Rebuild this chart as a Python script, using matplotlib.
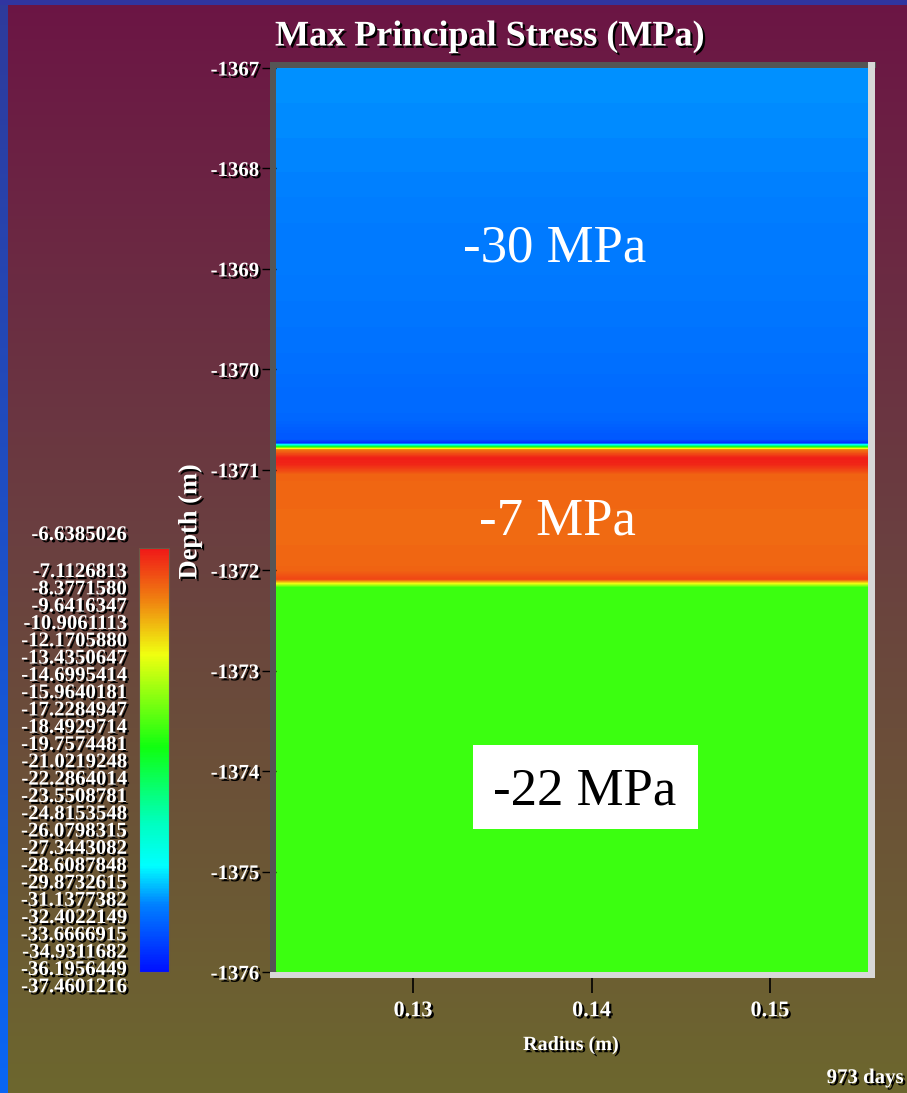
import numpy as np
import matplotlib
matplotlib.use("Agg")
import matplotlib.pyplot as plt
import matplotlib.patheffects as pe
from matplotlib.colors import LinearSegmentedColormap, Normalize
from matplotlib.cm import ScalarMappable
from matplotlib.patches import Rectangle

# --- data ---
depth_m = [-1367.0, -1368.0, -1369.0, -1370.0, -1370.5, -1370.70, -1370.73,
           -1370.80, -1370.88, -1370.95, -1371.05, -1371.6, -1372.0,
           -1372.09, -1372.17, -1373.0, -1376.0]
stress_mpa = [-32.2, -32.5, -32.9, -33.3, -33.7, -34.4, -36.0,
              -10.0, -7.0, -7.2, -9.4, -9.6, -9.4,
              -8.3, -19.8, -19.8, -19.8]
radius_m = [0.1223, 0.1555]

stress_min = -37.4601216
stress_max = -6.6385026
cbar_top_label = "-6.6385026"
cbar_labels = ["-7.1126813", "-8.3771580", "-9.6416347", "-10.9061113",
               "-12.1705880", "-13.4350647", "-14.6995414", "-15.9640181",
               "-17.2284947", "-18.4929714", "-19.7574481", "-21.0219248",
               "-22.2864014", "-23.5508781", "-24.8153548", "-26.0798315",
               "-27.3443082", "-28.6087848", "-29.8732615", "-31.1377382",
               "-32.4022149", "-33.6666915", "-34.9311682", "-36.1956449",
               "-37.4601216"]

x_ticks = [0.13, 0.14, 0.15]
x_tick_labels = ["0.13", "0.14", "0.15"]
y_ticks = [-1367, -1368, -1369, -1370, -1371, -1372, -1373, -1374, -1375, -1376]
y_tick_labels = ["-1367", "-1368", "-1369", "-1370", "-1371", "-1372",
                 "-1373", "-1374", "-1375", "-1376"]
band_labels = ["-30 MPa", "-7 MPa", "-22 MPa"]

W, H = 907, 1093


def fx(x):
    return x / W


def fy(y):
    return 1 - y / H


serif = "Liberation Serif"
shadow = [pe.SimplePatchShadow(offset=(1.6, -1.6), shadow_rgbFace="black", alpha=1.0),
          pe.Normal()]

cmap = LinearSegmentedColormap.from_list("stress", [
    (0.00, "#0010ff"), (0.157, "#0080ff"), (0.25, "#00ffff"), (0.35, "#00ffc0"),
    (0.53, "#10ff10"), (0.75, "#f0ff10"), (0.88, "#f08010"), (1.00, "#f01818")])
norm = Normalize(vmin=stress_min, vmax=stress_max)

fig = plt.figure(figsize=(W / 100, H / 100), dpi=100)

# background gradient and blue borders (pixel coordinates)
bg = fig.add_axes([0, 0, 1, 1], zorder=-10)
bg.axis("off")
rows = np.linspace(0, 1, H)
top_c = np.array([0x6c, 0x15, 0x45]) / 255
mid_c = np.array([0x6a, 0x40, 0x40]) / 255
bot_c = np.array([0x6d, 0x67, 0x2e]) / 255
grad = np.stack([np.interp(rows, [0.0, 0.5, 1.0], [top_c[i], mid_c[i], bot_c[i]])
                 for i in range(3)], axis=-1)
bg.imshow(grad[:, None, :], extent=[0, W, H, 0], aspect="auto")
blue_top = np.array([0x2f, 0x3a, 0x9a]) / 255
blue_bot = np.array([0x0a, 0x66, 0xf5]) / 255
bgrad = np.stack([np.interp(rows, [0, 1], [blue_top[i], blue_bot[i]]) for i in range(3)], axis=-1)
bg.imshow(bgrad[:, None, :], extent=[0, 8, H, 0], aspect="auto")
bg.add_patch(Rectangle((0, 0), W, 5, color="#3035a0", lw=0))
bg.set_xlim(0, W)
bg.set_ylim(H, 0)

# main field
ax = fig.add_axes([fx(276), fy(972), (868 - 276) / W, (972 - 68) / H])
field = np.column_stack([stress_mpa, stress_mpa])
ax.contourf(radius_m, depth_m, field, levels=np.linspace(stress_min, stress_max, 300),
            cmap=cmap, norm=norm, antialiased=False)
ax.set_xlim(0.12232, 0.15549)
ax.set_ylim(-1376, -1367)
for s in ax.spines.values():
    s.set_visible(False)
ax.set_xticks(x_ticks)
ax.set_xticklabels(x_tick_labels)
ax.set_yticks(y_ticks)
ax.set_yticklabels(y_tick_labels)
ax.tick_params(axis="y", direction="out", length=10, width=1, color="black", pad=2)
ax.tick_params(axis="x", direction="out", length=15, width=1.2, color="black", pad=6)
for lab in ax.get_yticklabels():
    lab.set(family=serif, weight="bold", size=15, color="white", path_effects=shadow)
for lab in ax.get_xticklabels():
    lab.set(family=serif, weight="bold", size=16, color="white", path_effects=shadow)

# band annotations
ax.text(0.4713, 0.800, band_labels[0], transform=ax.transAxes, ha="center", va="center",
        family=serif, size=38, color="white")
ax.text(0.4747, 0.498, band_labels[1], transform=ax.transAxes, ha="center", va="center",
        family=serif, size=38, color="white")
ax.add_patch(Rectangle((0.3328, 0.1582), 0.38, 0.0929, transform=ax.transAxes,
                       facecolor="white", edgecolor="none"))
ax.text(0.522, 0.200, band_labels[2], transform=ax.transAxes, ha="center", va="center",
        family=serif, size=38, color="black")

# bevel frame drawn over the tick roots
ov = fig.add_axes([0, 0, 1, 1], zorder=5)
ov.axis("off")
ov.patch.set_alpha(0)
ov.set_xlim(0, W)
ov.set_ylim(H, 0)
ov.add_patch(Rectangle((270, 62), 606, 6, color="#555555", lw=0))
ov.add_patch(Rectangle((270, 62), 6, 916, color="#555555", lw=0))
ov.add_patch(Rectangle((868, 62), 7, 916, color="#d8d8d8", lw=0))
ov.add_patch(Rectangle((270, 972), 605, 6, color="#d8d8d8", lw=0))

# titles and axis labels
fig.text(fx(490), fy(37), "Max Principal Stress (MPa)", ha="center", va="center",
         family=serif, weight="bold", size=26, color="white", path_effects=shadow)
fig.text(fx(190), fy(522), "Depth (m)", ha="center", va="center", rotation=90,
         family=serif, weight="bold", size=19, color="white", path_effects=shadow)
fig.text(fx(571), fy(1045), "Radius (m)", ha="center", va="center",
         family=serif, weight="bold", size=14.5, color="white", path_effects=shadow)
fig.text(fx(904), fy(1078), "973 days", ha="right", va="center",
         family=serif, weight="bold", size=15, color="white", path_effects=shadow)

# colour bar
cax = fig.add_axes([fx(139), fy(972), 30 / W, (972 - 548) / H])
cb = fig.colorbar(ScalarMappable(norm=norm, cmap=cmap), cax=cax)
cb.set_ticks([])
cb.outline.set_edgecolor("#6a5a48")
cb.outline.set_linewidth(0.8)

fig.text(fx(127), fy(535), cbar_top_label, ha="right", va="center",
         family=serif, weight="bold", size=15, color="white", path_effects=shadow)
for i, lab in enumerate(cbar_labels):
    fig.text(fx(127), fy(572 + i * 17.3), lab, ha="right", va="center",
             family=serif, weight="bold", size=15, color="white", path_effects=shadow)

fig.savefig("out.png", dpi=100)
